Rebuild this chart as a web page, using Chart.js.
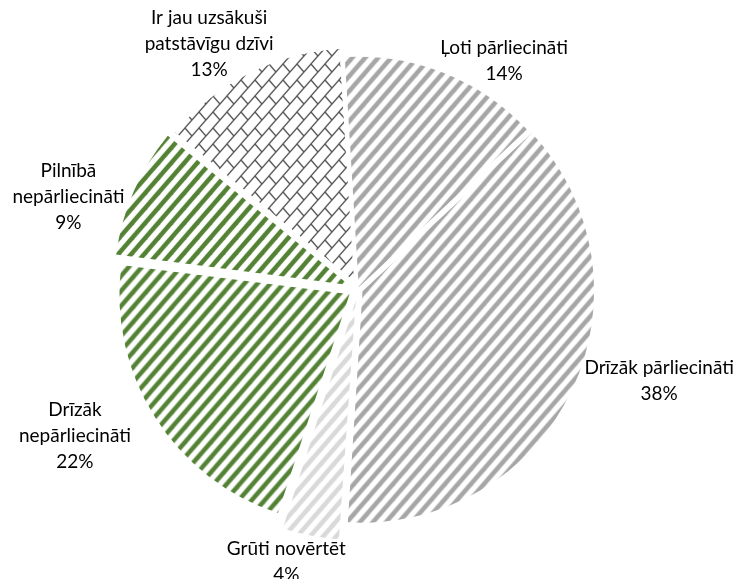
<!DOCTYPE html>
<html>
<head>
<meta charset="utf-8">
<script src="https://cdn.jsdelivr.net/npm/chart.js@4"></script>
<style>
  body { margin: 0; background: #fff; }
  canvas { display: block; }
</style>
</head>
<body>
<canvas id="pieChart" width="736" height="579"></canvas>
<script>
// data
const categories = [
    ['Ļoti pārliecināti'],
    ['Drīzāk pārliecināti'],
    ['Grūti novērtēt'],
    ['Drīzāk', 'nepārliecināti'],
    ['Pilnībā', 'nepārliecināti'],
    ['Ir jau uzsākuši', 'patstāvīgu dzīvi']
];
const values = [14, 38, 4, 22, 9, 13];

// how far each slice is pulled out (px)
const explode = [2, 5, 12, 10, 10, 9];
// best-fit style turn of each label away from the slice middle (deg) and extra push (px)
const labelTurn = [11, -8.5, 4, 5, -6, -4.5];
const labelPush = [3, -4, 2, 18, 0, 1];

function stripes(color, w, h, lw) {
    const c = document.createElement('canvas');
    c.width = w;
    c.height = h;
    const g = c.getContext('2d');
    g.fillStyle = '#fff';
    g.fillRect(0, 0, w, h);
    g.strokeStyle = color;
    g.lineWidth = lw;
    for (const dx of [-w, 0, w]) {
        g.beginPath();
        g.moveTo(dx - w / 2, h * 1.5);
        g.lineTo(dx + w * 1.5, -h / 2);
        g.stroke();
    }
    return g.createPattern(c, 'repeat');
}

function brick(color, w, h) {
    const c = document.createElement('canvas');
    c.width = w;
    c.height = h;
    const g = c.getContext('2d');
    g.fillStyle = '#fff';
    g.fillRect(0, 0, w, h);
    g.strokeStyle = color;
    g.lineWidth = 1.4;
    for (const dx of [-w, 0, w]) {
        g.beginPath();
        g.moveTo(dx - w / 2, h * 1.5);
        g.lineTo(dx + w * 1.5, -h / 2);
        g.stroke();
    }
    g.beginPath();
    g.moveTo(w / 2, h / 2);
    g.lineTo(w, h);
    g.stroke();
    return g.createPattern(c, 'repeat');
}

const ctx = document.getElementById('pieChart').getContext('2d');

const fills = [
    stripes('#a6a6a6', 13, 15, 4.5),
    stripes('#a6a6a6', 13, 15, 4.5),
    stripes('#d9d9d9', 13, 15, 4.5),
    stripes('#548235', 13, 15, 4.5),
    stripes('#548235', 13, 15, 4.5),
    brick('#555555', 14, 16)
];

const FONT = '19px Lato';
const LINE_H = 26;

// labels outside each slice, pushed until every text line clears the rim
const pieLabels = {
    id: 'pieLabels',
    afterDatasetsDraw(chart) {
        const c = chart.ctx;
        const meta = chart.getDatasetMeta(0);
        c.save();
        c.font = FONT;
        c.fillStyle = '#000';
        c.textAlign = 'center';
        c.textBaseline = 'middle';
        meta.data.forEach((arc, i) => {
            const mid = (arc.startAngle + arc.endAngle) / 2;
            const ox = arc.x + Math.cos(mid) * explode[i];
            const oy = arc.y + Math.sin(mid) * explode[i];
            const a = mid + labelTurn[i] * Math.PI / 180;
            const ux = Math.cos(a), uy = Math.sin(a);
            const lines = categories[i].concat([values[i] + '%']);
            const widths = lines.map(t => c.measureText(t).width);
            const w = Math.max(...widths);
            const h = lines.length * LINE_H;
            const rim = arc.outerRadius + 8;
            const clear = (lx, ly) => lines.every((t, k) => {
                const yk = ly - h / 2 + LINE_H / 2 + k * LINE_H;
                const nx = Math.max(lx - widths[k] / 2, Math.min(ox, lx + widths[k] / 2));
                const ny = Math.max(yk - 8, Math.min(oy, yk + 8));
                return Math.hypot(nx - ox, ny - oy) >= rim;
            });
            let d = rim;
            while (!clear(ox + ux * d, oy + uy * d) && d < rim + 300) d += 1;
            d += labelPush[i];
            let x = ox + ux * d;
            let y = oy + uy * d;
            x = Math.min(Math.max(x, w / 2 + 2), chart.width - w / 2 - 2);
            y = Math.max(y, h / 2 + 2);
            lines.forEach((t, k) => {
                c.fillText(t, x, y - h / 2 + LINE_H / 2 + k * LINE_H);
            });
        });
        c.restore();
    }
};

window.pieChart = new Chart(ctx, {
    type: 'pie',
    data: {
        labels: categories,
        datasets: [{
            data: values,
            backgroundColor: fills,
            borderWidth: 0,
            offset: explode.map(d => d * 4)
        }]
    },
    options: {
        responsive: false,
        animation: false,
        rotation: -3.5,
        radius: 230,
        layout: {
            padding: { left: 0, right: 20, top: 0, bottom: 1 }
        },
        plugins: {
            legend: { display: false },
            tooltip: { enabled: false }
        }
    },
    plugins: [pieLabels]
});
</script>
</body>
</html>
